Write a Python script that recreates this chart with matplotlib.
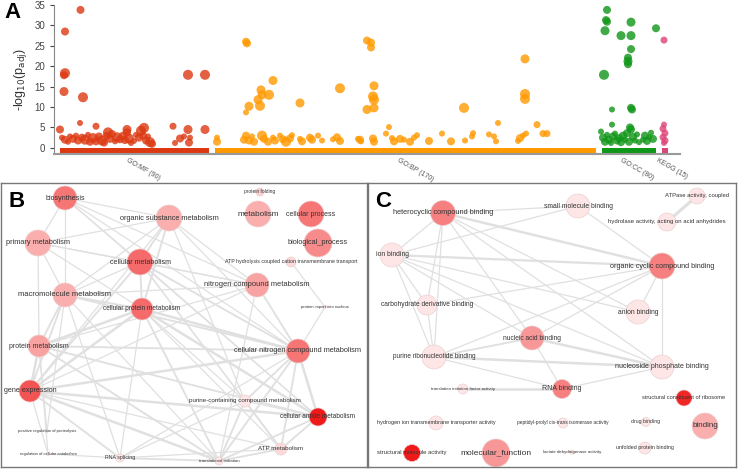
import matplotlib.pyplot as plt
import matplotlib.patches as mpatches
from matplotlib.colors import LinearSegmentedColormap

plt.rcParams['font.family'] = ['Liberation Sans', 'DejaVu Sans']

# ---------------- panel A: manhattan plot of enriched terms ----------------
# x = term position along the axis, y = -log10(p_adj), r = point radius (term size)
mf_x = [80.5, 65, 65, 64, 64, 83, 188, 205, 80, 96, 173, 60, 188, 205, 144, 127,
        62, 65, 68, 70, 73, 76, 78, 82, 85, 88, 90, 93, 96, 99, 102, 104, 107, 108,
        110, 112, 115, 117, 120, 123, 125, 127, 129, 131, 134, 136, 139, 141, 143,
        146, 148, 150, 152, 175, 180, 184, 189, 190]
mf_y = [33.8, 28.5, 18.3, 17.8, 13.8, 12.4, 17.9, 17.9, 6.1, 5.3, 5.3, 4.5, 4.5, 4.5, 4.9, 4.5,
        2.5, 2.0, 1.5, 2.8, 2.2, 3.0, 1.8, 2.5, 2.0, 3.2, 1.5, 2.4, 1.6, 2.8, 1.8, 1.3, 3.0, 3.8,
        2.2, 3.4, 1.6, 2.6, 2.1, 3.0, 1.9, 3.8, 2.3, 1.2, 1.7, 3.2, 2.5, 4.2, 3.0,
        1.8, 2.8, 1.4, 1.0, 1.2, 2.3, 2.8, 1.3, 2.5]
mf_r = [4, 4, 5, 4, 4.5, 5, 5, 5, 3, 3.5, 3.5, 4, 4.5, 4.5, 5, 4.5,
        3, 4, 3, 3, 4, 3, 4, 4, 5, 3, 4, 5, 4, 4, 5, 4, 4, 5,
        4, 4, 3, 5, 4, 4, 4, 4, 5, 3, 3, 3, 4, 5, 4,
        4, 3, 5, 4, 3, 4, 3, 4, 3]

bp_x = [246, 247, 273, 261, 262, 269, 258, 249, 260, 246, 300, 340, 367, 371, 371, 374,
        373, 374, 367, 374, 464, 525, 525, 525, 389, 498, 537, 543, 547,
        217, 217, 244, 246, 249, 252, 254, 262, 264, 268, 273, 275, 280, 283, 286, 290,
        292, 300, 302, 310, 312, 318, 322, 333, 337, 340, 358, 361,
        360, 373, 374, 386, 392, 394, 400, 404, 410, 414, 417, 429, 442, 451, 465, 472,
        473, 489, 494, 496, 518, 520, 523, 526]
bp_y = [26.0, 25.6, 16.5, 14.2, 13.0, 13.0, 11.8, 10.2, 10.3, 8.7, 11.0, 14.6, 26.3, 25.8, 24.6, 15.2,
        12.6, 11.8, 9.4, 9.8, 9.8, 21.8, 13.2, 12.0, 5.1, 6.1, 5.7, 3.5, 3.5,
        2.5, 1.5, 2.0, 3.0, 1.8, 2.8, 1.5, 3.0, 2.2, 1.5, 2.5, 1.8, 3.0, 2.1, 1.5, 2.3,
        3.1, 2.2, 1.6, 2.5, 2.0, 3.0, 1.8, 2.1, 2.6, 1.7, 2.2, 1.6,
        2.0, 2.3, 1.5, 3.5, 2.4, 1.6, 2.2, 2.0, 1.5, 2.5, 3.1, 1.7, 3.5, 1.6, 1.8, 2.8,
        3.6, 3.3, 2.8, 1.6, 1.7, 2.4, 3.0, 3.5]
bp_r = [4, 4, 4.5, 4.5, 4.5, 5, 4.5, 4.5, 5, 3, 4.5, 5, 4, 4, 4, 4.5,
        5, 5, 4.5, 4.5, 5, 4.5, 5, 5, 3, 3, 3.5, 3.5, 3.5,
        3, 4, 4, 4, 4, 3, 4, 5, 4, 4, 3, 4, 3, 4, 5, 4,
        3, 3, 4, 4, 4, 3, 3, 3, 4, 4, 3, 3,
        4, 4, 4, 3, 3, 4, 4, 3, 4, 3, 3, 4, 3, 4, 3, 3,
        3, 3, 3, 3, 3, 4, 3, 3]

cc_x = [607, 606, 607, 605, 631, 621, 631, 631, 628, 628, 628, 604, 656, 612, 631, 632, 612, 630, 631,
        601, 603, 605, 607, 609, 611, 613, 615, 617, 619, 621, 623, 625, 627, 629, 633, 635,
        637, 639, 643, 645, 647, 649, 651, 653]
cc_y = [33.8, 31.3, 30.9, 28.7, 30.8, 27.5, 27.5, 24.2, 22.1, 21.2, 20.5, 17.9, 29.3, 9.4, 9.8, 9.4, 5.7, 5.0, 4.5,
        4.0, 2.5, 1.5, 3.2, 2.0, 1.2, 2.8, 3.5, 1.8, 2.4, 1.4, 3.0, 2.0, 3.6, 1.5, 2.7, 1.8,
        3.3, 1.4, 2.0, 3.0, 1.7, 2.6, 3.7, 2.2]
cc_r = [4, 4, 4, 4.5, 4.5, 4.5, 4.5, 4, 4, 4.5, 4, 5, 4, 3, 4, 4, 3, 4, 4,
        3, 4, 4, 3, 4, 3, 4, 3, 4, 4, 4, 4, 3, 4, 4, 4, 3,
        3, 3, 3, 4, 4, 3, 3, 4]

kegg_x = [664, 664, 663, 665, 663, 665, 664]
kegg_y = [26.4, 5.7, 4.7, 3.6, 2.6, 1.8, 1.2]
kegg_r = [3.5, 3, 3.5, 3.5, 3.5, 3.5, 3]

source_names = ['GO:MF (90)', 'GO:BP (170)', 'GO:CC (80)', 'KEGG (15)']
source_start = [60, 215, 602, 662]
source_end = [209, 596, 656, 668]
source_colors = ['#dc3912', '#ff9900', '#109618', '#dd4477']

# ---------------- panel B: biological process network ----------------
b_names = ['biosynthesis', 'organic substance metabolism', 'protein folding', 'metabolism',
           'cellular process', 'biological_process', 'primary metabolism', 'cellular metabolism',
           'ATP hydrolysis coupled cation transmembrane transport', 'nitrogen compound metabolism',
           'macromolecule metabolism', 'cellular protein metabolism', 'protein import into nucleus',
           'protein metabolism', 'cellular nitrogen compound metabolism', 'gene expression',
           'purine-containing compound metabolism', 'cellular amide metabolism',
           'positive regulation of proteolysis', 'regulation of cellular catabolism',
           'RNA splicing', 'translational initiation', 'ATP metabolism']
b_x = [65, 169, 260, 258, 311, 318, 38, 140, 291, 257, 65, 142, 325, 39, 298, 30, 245, 318, 47, 48, 120, 219, 281]
b_y = [198, 218, 192, 214, 214, 243, 243, 262, 262, 285, 295, 309, 307, 346, 351, 391, 401, 417, 431, 454, 458, 461, 449]
b_r = [12, 13, 4, 13, 13, 14, 13, 13, 5, 12, 12, 11, 1.5, 11, 12, 11, 6, 9, 1.5, 1.5, 4, 4, 6]
b_sig = [0.55, 0.3, 0.15, 0.3, 0.55, 0.45, 0.3, 0.6, 0.1, 0.35, 0.3, 0.6, 0.05, 0.35, 0.55, 0.7,
         0.05, 0.95, 0.05, 0.05, 0.05, 0.05, 0.1]
b_fs = [5.1, 5.3, 3.5, 5.9, 5.0, 5.3, 5.3, 5.1, 3.8, 5.4, 5.5, 4.7, 3.0, 5.0, 5.3, 5.1,
        4.5, 4.7, 3.0, 3.0, 3.8, 3.2, 4.5]
b_edges = [(0, 1, 1), (0, 6, 1), (0, 7, 1), (0, 10, 1), (0, 14, 1), (0, 9, 1), (0, 17, 1),
           (1, 6, 1), (1, 7, 1.5), (1, 10, 1), (1, 9, 1), (1, 14, 1), (1, 11, 1.5), (1, 15, 1), (1, 16, 1),
           (6, 7, 1), (6, 10, 1), (6, 9, 1), (6, 11, 1), (6, 13, 1),
           (7, 10, 1), (7, 11, 1.5), (7, 9, 1), (7, 14, 1.5), (7, 15, 1.5), (7, 17, 1), (7, 22, 1), (7, 16, 1),
           (10, 11, 1.5), (10, 13, 1.5), (10, 15, 1.5), (10, 9, 1), (10, 14, 1.5), (10, 20, 1), (10, 21, 1), (10, 18, 1),
           (11, 13, 2), (11, 15, 2), (11, 14, 2), (11, 17, 2), (11, 21, 1.5), (11, 20, 1), (11, 22, 1), (11, 16, 1),
           (9, 14, 1.5), (9, 13, 1), (9, 15, 1), (9, 21, 1),
           (13, 15, 2), (13, 14, 1.5), (13, 18, 1), (13, 17, 1.5), (13, 21, 1.5), (13, 19, 1),
           (14, 15, 2), (14, 17, 2), (14, 16, 1.5), (14, 22, 1.5), (14, 21, 1.5), (14, 20, 1),
           (15, 20, 1.5), (15, 21, 2), (15, 17, 2), (15, 19, 1), (15, 22, 1),
           (16, 22, 1.5), (16, 21, 1.5), (16, 20, 1), (16, 17, 1),
           (17, 21, 1.5), (17, 22, 1.5),
           (20, 21, 1.5), (20, 22, 1), (20, 19, 1), (21, 22, 1.5),
           (8, 12, 1), (12, 14, 1)]

# ---------------- panel C: molecular function network ----------------
c_names = ['heterocyclic compound binding', 'small molecule binding', 'ATPase activity, coupled',
           'hydrolase activity, acting on acid anhydrides', 'ion binding',
           'organic cyclic compound binding', 'carbohydrate derivative binding', 'anion binding',
           'nucleic acid binding', 'purine ribonucleotide binding', 'nucleoside phosphate binding',
           'translation initiation factor activity', 'RNA binding',
           'structural constituent of ribosome', 'hydrogen ion transmembrane transporter activity',
           'peptidyl-prolyl cis-trans isomerase activity', 'drug binding', 'binding',
           'structural molecule activity', 'molecular_function', 'lactate dehydrogenase activity',
           'unfolded protein binding']
c_x = [443, 578, 697, 667, 392, 662, 427, 638, 532, 434, 662, 463, 562, 684, 436, 563, 646, 705, 412, 496, 572, 645]
c_y = [213, 206, 196, 222, 255, 266, 305, 312, 338, 357, 367, 389, 389, 398, 423, 423, 422, 426, 453, 453, 452, 448]
c_r = [12.5, 12, 8, 9, 12, 13, 10, 12, 12, 12, 12, 5, 9.5, 8, 7, 5, 4.5, 13, 8.5, 14, 2, 6]
c_sig = [0.5, 0.05, 0.05, 0.05, 0.05, 0.5, 0.05, 0.05, 0.4, 0.05, 0.05, 0.05, 0.5, 0.9,
         0.05, 0.05, 0.05, 0.3, 0.95, 0.4, 0.05, 0.05]
c_fs = [5.3, 4.9, 4.2, 4.3, 4.9, 5.2, 4.8, 4.9, 4.8, 4.7, 5.0, 3.2, 5.0, 4.1, 4.0, 3.5, 3.7, 5.8,
        4.2, 6.0, 3.2, 3.9]
c_edges = [(0, 1, 1), (0, 5, 2), (0, 4, 1), (0, 6, 1), (0, 9, 1), (0, 8, 1), (0, 7, 1), (0, 10, 1),
           (1, 4, 1), (1, 5, 1), (2, 3, 2.5),
           (4, 5, 1.8), (4, 7, 1), (4, 10, 1), (4, 6, 1), (4, 9, 1), (4, 8, 1),
           (5, 6, 1), (5, 7, 1), (5, 10, 1), (5, 8, 1), (5, 9, 1),
           (6, 9, 1), (8, 9, 1.5), (8, 10, 2), (8, 12, 1), (9, 10, 2), (9, 12, 1),
           (12, 10, 1), (12, 11, 2)]

node_cmap = LinearSegmentedColormap.from_list('sig', ['#fff0f0', '#ee1111'])


def draw_network(ax, names, xs, ys, rs, sig, fs, edges):
    for a, b, w in edges:
        ax.plot([xs[a], xs[b]], [ys[a], ys[b]], color='#e0e0e0', lw=w * 0.9, zorder=1,
                solid_capstyle='round')
    for i in range(len(names)):
        ax.add_patch(mpatches.Circle((xs[i], ys[i]), rs[i], facecolor=node_cmap(sig[i]),
                                     edgecolor='#ecd0d0', lw=0.5, zorder=2))
        ax.text(xs[i], ys[i], names[i], fontsize=fs[i], color='#333333',
                ha='center', va='center', zorder=3)
    ax.set_xticks([])
    ax.set_yticks([])
    for sp in ax.spines.values():
        sp.set_color('#777777')
        sp.set_linewidth(1)


fig = plt.figure(figsize=(7.38, 4.70), dpi=100)

# panel A
W, H = 738, 470
ax = fig.add_axes([54 / W, 1 - 154 / H, (680 - 54) / W, 149 / H])
for xs, ys, rs, col in [(mf_x, mf_y, mf_r, source_colors[0]), (bp_x, bp_y, bp_r, source_colors[1]),
                        (cc_x, cc_y, cc_r, source_colors[2]), (kegg_x, kegg_y, kegg_r, source_colors[3])]:
    ax.scatter(xs, ys, s=[(2 * r * 0.72) ** 2 for r in rs], color=col, alpha=0.8,
               linewidths=0, zorder=3)
for name, s0, s1, col in zip(source_names, source_start, source_end, source_colors):
    ax.bar(s0, -1.35, width=s1 - s0, bottom=0, align='edge', color=col, zorder=2)
    ax.text((s0 + s1) / 2 - 6, -2.2, name, rotation=-30, rotation_mode='anchor',
            ha='left', va='top', fontsize=5, color='#555555', clip_on=False)
ax.set_xlim(54, 680)
ax.set_ylim(-1.5, 35)
ax.set_yticks(range(0, 36, 5))
ax.set_xticks([])
ax.tick_params(axis='y', labelsize=7, colors='#444444', length=3, width=0.8)
ax.spines['top'].set_visible(False)
ax.spines['right'].set_visible(False)
ax.spines['left'].set_color('#888888')
ax.spines['bottom'].set_color('#999999')
ax.spines['bottom'].set_linewidth(1.5)
ax.set_ylabel(r'-log$_{10}$(p$_{\mathrm{adj}}$)', fontsize=9, color='#333333', labelpad=4)

# panel B
axb = fig.add_axes([1 / W, 1 - 467 / H, 366 / W, 284 / H])
draw_network(axb, b_names, b_x, b_y, b_r, b_sig, b_fs, b_edges)
axb.set_xlim(1, 367)
axb.set_ylim(467, 183)

# panel C
axc = fig.add_axes([368 / W, 1 - 467 / H, 368 / W, 284 / H])
draw_network(axc, c_names, c_x, c_y, c_r, c_sig, c_fs, c_edges)
axc.set_xlim(368, 736)
axc.set_ylim(467, 183)

fig.text(4 / W, 1 - 2 / H, 'A', fontsize=16, fontweight='bold', va='top', ha='left')
fig.text(8 / W, 1 - 191 / H, 'B', fontsize=16, fontweight='bold', va='top', ha='left')
fig.text(375 / W, 1 - 191 / H, 'C', fontsize=16, fontweight='bold', va='top', ha='left')

fig.savefig('out.png', dpi=100)
